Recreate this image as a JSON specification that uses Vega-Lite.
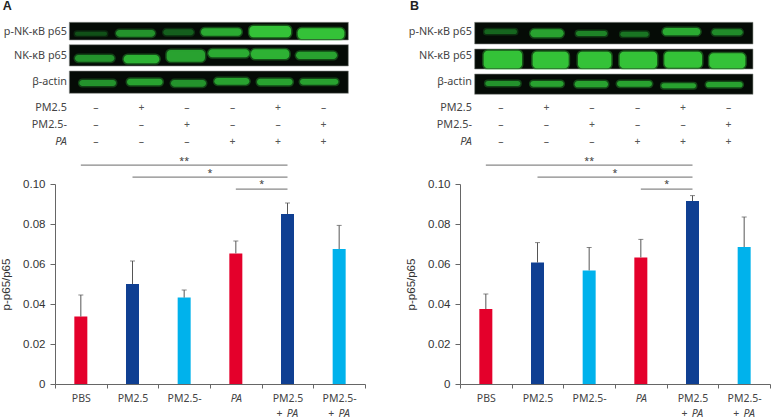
{"$schema":"https://vega.github.io/schema/vega-lite/v6.json","padding":{"left":0,"top":0,"right":0,"bottom":0},"autosize":{"type":"pad"},"background":"white","config":{"view":{"stroke":null},"text":{"font":"Noto Sans"}},"spacing":39,
"datasets":{
"rowLabels":[{"label":"p-NK-κB p65","pos":0.947,"lane":0.36},{"label":"NK-κB p65","pos":1.907,"lane":0.36},{"label":"β-actin","pos":2.973,"lane":0.36},{"label":"PM2.5","pos":3.987,"lane":0.36},{"label":"PM2.5-","pos":4.68,"lane":0.36},{"label":"PA","pos":5.36,"lane":0.36}],
"signs":[{"lane":1,"pos":3.987,"sign":"–"},{"lane":2,"pos":3.987,"sign":"+"},{"lane":3,"pos":3.987,"sign":"–"},{"lane":4,"pos":3.987,"sign":"–"},{"lane":5,"pos":3.987,"sign":"+"},{"lane":6,"pos":3.987,"sign":"–"},{"lane":1,"pos":4.68,"sign":"–"},{"lane":2,"pos":4.68,"sign":"–"},{"lane":3,"pos":4.68,"sign":"+"},{"lane":4,"pos":4.68,"sign":"–"},{"lane":5,"pos":4.68,"sign":"–"},{"lane":6,"pos":4.68,"sign":"+"},{"lane":1,"pos":5.36,"sign":"–"},{"lane":2,"pos":5.36,"sign":"–"},{"lane":3,"pos":5.36,"sign":"–"},{"lane":4,"pos":5.36,"sign":"+"},{"lane":5,"pos":5.36,"sign":"+"},{"lane":6,"pos":5.36,"sign":"+"}],
"sigLines":[{"from":"PBS","to":"PM2.5 + PA","level":0.1094},{"from":"PM2.5","to":"PM2.5 + PA","level":0.1034},{"from":"PA","to":"PM2.5 + PA","level":0.0974}],
"stars":[{"cat":"PM2.5-","level":0.1116,"t":"**"}],
"starsMid":[{"cat":"PM2.5-","level":0.1055,"t":"*"},{"cat":"PA","level":0.0998,"t":"*"}],
"secondLine":[{"cat":"PM2.5 + PA"},{"cat":"PM2.5- + PA"}],
"barsA":[{"cat":"PBS","group":"red","value":0.0337,"upper":0.0445},{"cat":"PM2.5","group":"navy","value":0.05,"upper":0.0615},{"cat":"PM2.5-","group":"cyan","value":0.0432,"upper":0.047},{"cat":"PA","group":"red","value":0.0653,"upper":0.0715},{"cat":"PM2.5 + PA","group":"navy","value":0.085,"upper":0.0905},{"cat":"PM2.5- + PA","group":"cyan","value":0.0675,"upper":0.0793}],
"barsB":[{"cat":"PBS","group":"red","value":0.0375,"upper":0.045},{"cat":"PM2.5","group":"navy","value":0.0607,"upper":0.0707},{"cat":"PM2.5-","group":"cyan","value":0.0568,"upper":0.0683},{"cat":"PA","group":"red","value":0.0633,"upper":0.0723},{"cat":"PM2.5 + PA","group":"navy","value":0.0915,"upper":0.0942},{"cat":"PM2.5- + PA","group":"cyan","value":0.0685,"upper":0.0835}],
"blotBgA":[{"a":0.414,"b":6.546,"lo":0.573,"hi":1.28},{"a":0.414,"b":6.546,"lo":1.467,"hi":2.32},{"a":0.414,"b":6.546,"lo":2.52,"hi":3.413}],
"blotBgB":[{"a":0.421,"b":6.538,"lo":0.573,"hi":1.44},{"a":0.421,"b":6.538,"lo":1.64,"hi":2.44},{"a":0.421,"b":6.538,"lo":2.64,"hi":3.453}],
"bandsA":[{"a":0.538,"b":1.242,"lo":0.947,"hi":1.107,"i":0.25},{"a":1.44,"b":2.297,"lo":0.88,"hi":1.147,"i":0.7},{"a":2.48,"b":3.147,"lo":0.853,"hi":1.093,"i":0.35},{"a":3.308,"b":4.2,"lo":0.813,"hi":1.107,"i":0.85},{"a":4.37,"b":5.286,"lo":0.72,"hi":1.173,"i":1},{"a":5.432,"b":6.458,"lo":0.813,"hi":1.24,"i":1},{"a":0.538,"b":1.403,"lo":1.88,"hi":2.147,"i":0.7},{"a":1.608,"b":2.392,"lo":1.88,"hi":2.213,"i":0.9},{"a":2.553,"b":3.396,"lo":1.68,"hi":2.147,"i":0.8},{"a":3.469,"b":4.37,"lo":1.653,"hi":1.973,"i":0.85},{"a":4.407,"b":5.249,"lo":1.653,"hi":2.04,"i":0.9},{"a":5.396,"b":6.297,"lo":1.747,"hi":2.04,"i":0.8},{"a":0.634,"b":1.44,"lo":2.88,"hi":3.12,"i":0.7},{"a":1.681,"b":2.465,"lo":2.827,"hi":3.093,"i":0.8},{"a":2.648,"b":3.418,"lo":2.88,"hi":3.147,"i":0.7},{"a":3.6,"b":4.37,"lo":2.8,"hi":3.067,"i":0.8},{"a":4.538,"b":5.322,"lo":2.827,"hi":3.093,"i":0.8},{"a":5.484,"b":6.326,"lo":2.84,"hi":3.067,"i":0.8}],
"bandsB":[{"a":0.634,"b":1.352,"lo":0.853,"hi":1.04,"i":0.4},{"a":1.645,"b":2.377,"lo":0.853,"hi":1.173,"i":0.8},{"a":2.648,"b":3.33,"lo":0.92,"hi":1.12,"i":0.6},{"a":3.623,"b":4.245,"lo":0.947,"hi":1.147,"i":0.5},{"a":4.553,"b":5.381,"lo":0.8,"hi":1.093,"i":0.85},{"a":5.637,"b":6.311,"lo":0.853,"hi":1.093,"i":0.65},{"a":0.619,"b":1.462,"lo":1.707,"hi":2.413,"i":1},{"a":1.696,"b":2.487,"lo":1.747,"hi":2.413,"i":1},{"a":2.692,"b":3.425,"lo":1.747,"hi":2.413,"i":1},{"a":3.608,"b":4.429,"lo":1.747,"hi":2.413,"i":1},{"a":4.59,"b":5.418,"lo":1.747,"hi":2.387,"i":1},{"a":5.579,"b":6.37,"lo":1.813,"hi":2.413,"i":1},{"a":0.656,"b":1.425,"lo":2.92,"hi":3.12,"i":0.7},{"a":1.645,"b":2.377,"lo":2.92,"hi":3.147,"i":0.8},{"a":2.619,"b":3.352,"lo":2.92,"hi":3.173,"i":0.8},{"a":3.549,"b":4.319,"lo":2.92,"hi":3.147,"i":0.8},{"a":4.524,"b":5.286,"lo":3.013,"hi":3.213,"i":0.8},{"a":5.505,"b":6.311,"lo":2.96,"hi":3.173,"i":0.8}],
"lettersA":[{"t":"A","lane":-1.05,"pos":-0.07}],
"lettersB":[{"t":"B","lane":-1.0,"pos":-0.07}]
},
"hconcat":[
{"spacing":6,"vconcat":[
{"width":310,"height":150,"layer":[
{"data":{"name":"blotBgA"},"mark":{"type":"rect","color":"#050b06","stroke":"#8a8f8a","strokeWidth":0.6},"encoding":{"x":{"field":"a","type":"quantitative","axis":null,"scale":{"domain":[0.099,6.912],"nice":false,"zero":false}},"x2":{"field":"b"},"y":{"field":"lo","type":"quantitative","axis":null,"scale":{"domain":[-0.32,5.68],"reverse":true,"nice":false,"zero":false}},"y2":{"field":"hi"}}},
{"data":{"name":"bandsA"},"mark":{"type":"rect","cornerRadius":4,"strokeWidth":3,"strokeOpacity":0.4},"encoding":{"x":{"field":"a","type":"quantitative","axis":null},"x2":{"field":"b"},"y":{"field":"lo","type":"quantitative","axis":null},"y2":{"field":"hi"},"color":{"field":"i","type":"quantitative","legend":null,"scale":{"domain":[0.2,1],"range":["#0f4a16","#34c238"]}},"stroke":{"field":"i","type":"quantitative","legend":null,"scale":{"domain":[0.2,1],"range":["#0f4a16","#34c238"]}}}},
{"data":{"name":"rowLabels"},"transform":[{"filter":"datum.label!='PA'"}],"mark":{"type":"text","align":"right","baseline":"middle","fontSize":10.8,"color":"#444"},"encoding":{"x":{"field":"lane","type":"quantitative","axis":null},"y":{"field":"pos","type":"quantitative","axis":null},"text":{"field":"label"}}},
{"data":{"name":"rowLabels"},"transform":[{"filter":"datum.label=='PA'"}],"mark":{"type":"text","align":"right","baseline":"middle","fontSize":10.8,"fontStyle":"italic","color":"#444"},"encoding":{"x":{"field":"lane","type":"quantitative","axis":null},"y":{"field":"pos","type":"quantitative","axis":null},"text":{"field":"label"}}},
{"data":{"name":"signs"},"mark":{"type":"text","align":"center","baseline":"middle","fontSize":10.5,"color":"#555"},"encoding":{"x":{"field":"lane","type":"quantitative","axis":null},"y":{"field":"pos","type":"quantitative","axis":null},"text":{"field":"sign"}}},
{"data":{"name":"lettersA"},"mark":{"type":"text","align":"left","baseline":"middle","fontSize":12.5,"fontWeight":"bold","font":"Liberation Sans","color":"#222"},"encoding":{"x":{"field":"lane","type":"quantitative","axis":null},"y":{"field":"pos","type":"quantitative","axis":null},"text":{"field":"t"}}}
]},
{"width":310,"height":200,"layer":[
{"data":{"name":"barsA"},"mark":{"type":"bar","size":13},"encoding":{"x":{"field":"cat","type":"nominal","title":null,"scale":{"domain":["PBS","PM2.5","PM2.5-","PA","PM2.5 + PA","PM2.5- + PA"],"paddingInner":0,"paddingOuter":0},"axis":{"labelAngle":0,"tickBand":"extent","tickSize":4,"tickColor":"#666","domainColor":"#666","labelFont":"Noto Sans","labelFontSize":10.5,"labelColor":"#444","labelPadding":5,"labelExpr":"split(datum.label,' + ')[0]","labelFontStyle":{"condition":{"test":"datum.label=='PA'","value":"italic"},"value":"normal"}}},"y":{"field":"value","type":"quantitative","title":"p-p65/p65","scale":{"domain":[0,0.1],"nice":false},"axis":{"tickCount":6,"labelExpr":"datum.value==0?'0':format(datum.value,'.2f')","labelOverlap":false,"labelBound":false,"labelFlush":false,"grid":false,"tickSize":5,"tickColor":"#666","domainColor":"#666","labelFont":"Liberation Sans","labelFontSize":11.5,"labelColor":"#333","labelPadding":5,"titleFont":"Liberation Sans","titleFontSize":11.5,"titleFontWeight":"normal","titleColor":"#333","titlePadding":11}},"color":{"field":"group","type":"nominal","legend":null,"scale":{"domain":["red","navy","cyan"],"range":["#e4002b","#0f3f92","#00b2ec"]}}}},
{"data":{"name":"barsA"},"mark":{"type":"rule","color":"#555","strokeWidth":1},"encoding":{"x":{"field":"cat","type":"nominal"},"y":{"field":"value","type":"quantitative"},"y2":{"field":"upper"}}},
{"data":{"name":"barsA"},"mark":{"type":"tick","color":"#555","size":5,"thickness":1},"encoding":{"x":{"field":"cat","type":"nominal"},"y":{"field":"upper","type":"quantitative"}}},
{"data":{"name":"sigLines"},"mark":{"type":"rule","color":"#888","strokeWidth":1.2},"encoding":{"x":{"field":"from","type":"nominal"},"x2":{"field":"to"},"y":{"field":"level","type":"quantitative"}}},
{"data":{"name":"stars"},"mark":{"type":"text","fontSize":9,"color":"#333","baseline":"middle"},"encoding":{"x":{"field":"cat","type":"nominal"},"y":{"field":"level","type":"quantitative"},"text":{"field":"t"}}},
{"data":{"name":"starsMid"},"mark":{"type":"text","fontSize":9,"color":"#333","baseline":"middle"},"encoding":{"x":{"field":"cat","type":"nominal","bandPosition":1},"y":{"field":"level","type":"quantitative"},"text":{"field":"t"}}},
{"data":{"name":"secondLine"},"mark":{"type":"text","fontSize":10.5,"color":"#444","dx":-8,"dy":29.5,"baseline":"middle"},"encoding":{"x":{"field":"cat","type":"nominal"},"y":{"datum":0},"text":{"value":"+"}}},
{"data":{"name":"secondLine"},"mark":{"type":"text","fontSize":10.5,"color":"#444","fontStyle":"italic","dx":5,"dy":29.5,"baseline":"middle"},"encoding":{"x":{"field":"cat","type":"nominal"},"y":{"datum":0},"text":{"value":"PA"}}}
]}
]},
{"spacing":6,"vconcat":[
{"width":310,"height":150,"layer":[
{"data":{"name":"blotBgB"},"mark":{"type":"rect","color":"#050b06","stroke":"#8a8f8a","strokeWidth":0.6},"encoding":{"x":{"field":"a","type":"quantitative","axis":null,"scale":{"domain":[0.099,6.912],"nice":false,"zero":false}},"x2":{"field":"b"},"y":{"field":"lo","type":"quantitative","axis":null,"scale":{"domain":[-0.32,5.68],"reverse":true,"nice":false,"zero":false}},"y2":{"field":"hi"}}},
{"data":{"name":"bandsB"},"mark":{"type":"rect","cornerRadius":4,"strokeWidth":3,"strokeOpacity":0.4},"encoding":{"x":{"field":"a","type":"quantitative","axis":null},"x2":{"field":"b"},"y":{"field":"lo","type":"quantitative","axis":null},"y2":{"field":"hi"},"color":{"field":"i","type":"quantitative","legend":null,"scale":{"domain":[0.2,1],"range":["#0f4a16","#34c238"]}},"stroke":{"field":"i","type":"quantitative","legend":null,"scale":{"domain":[0.2,1],"range":["#0f4a16","#34c238"]}}}},
{"data":{"name":"rowLabels"},"transform":[{"filter":"datum.label!='PA'"}],"mark":{"type":"text","align":"right","baseline":"middle","fontSize":10.8,"color":"#444"},"encoding":{"x":{"field":"lane","type":"quantitative","axis":null},"y":{"field":"pos","type":"quantitative","axis":null},"text":{"field":"label"}}},
{"data":{"name":"rowLabels"},"transform":[{"filter":"datum.label=='PA'"}],"mark":{"type":"text","align":"right","baseline":"middle","fontSize":10.8,"fontStyle":"italic","color":"#444"},"encoding":{"x":{"field":"lane","type":"quantitative","axis":null},"y":{"field":"pos","type":"quantitative","axis":null},"text":{"field":"label"}}},
{"data":{"name":"signs"},"mark":{"type":"text","align":"center","baseline":"middle","fontSize":10.5,"color":"#555"},"encoding":{"x":{"field":"lane","type":"quantitative","axis":null},"y":{"field":"pos","type":"quantitative","axis":null},"text":{"field":"sign"}}},
{"data":{"name":"lettersB"},"mark":{"type":"text","align":"left","baseline":"middle","fontSize":12.5,"fontWeight":"bold","font":"Liberation Sans","color":"#222"},"encoding":{"x":{"field":"lane","type":"quantitative","axis":null},"y":{"field":"pos","type":"quantitative","axis":null},"text":{"field":"t"}}}
]},
{"width":310,"height":200,"layer":[
{"data":{"name":"barsB"},"mark":{"type":"bar","size":13},"encoding":{"x":{"field":"cat","type":"nominal","title":null,"scale":{"domain":["PBS","PM2.5","PM2.5-","PA","PM2.5 + PA","PM2.5- + PA"],"paddingInner":0,"paddingOuter":0},"axis":{"labelAngle":0,"tickBand":"extent","tickSize":4,"tickColor":"#666","domainColor":"#666","labelFont":"Noto Sans","labelFontSize":10.5,"labelColor":"#444","labelPadding":5,"labelExpr":"split(datum.label,' + ')[0]","labelFontStyle":{"condition":{"test":"datum.label=='PA'","value":"italic"},"value":"normal"}}},"y":{"field":"value","type":"quantitative","title":"p-p65/p65","scale":{"domain":[0,0.1],"nice":false},"axis":{"tickCount":6,"labelExpr":"datum.value==0?'0':format(datum.value,'.2f')","labelOverlap":false,"labelBound":false,"labelFlush":false,"grid":false,"tickSize":5,"tickColor":"#666","domainColor":"#666","labelFont":"Liberation Sans","labelFontSize":11.5,"labelColor":"#333","labelPadding":5,"titleFont":"Liberation Sans","titleFontSize":11.5,"titleFontWeight":"normal","titleColor":"#333","titlePadding":11}},"color":{"field":"group","type":"nominal","legend":null,"scale":{"domain":["red","navy","cyan"],"range":["#e4002b","#0f3f92","#00b2ec"]}}}},
{"data":{"name":"barsB"},"mark":{"type":"rule","color":"#555","strokeWidth":1},"encoding":{"x":{"field":"cat","type":"nominal"},"y":{"field":"value","type":"quantitative"},"y2":{"field":"upper"}}},
{"data":{"name":"barsB"},"mark":{"type":"tick","color":"#555","size":5,"thickness":1},"encoding":{"x":{"field":"cat","type":"nominal"},"y":{"field":"upper","type":"quantitative"}}},
{"data":{"name":"sigLines"},"mark":{"type":"rule","color":"#888","strokeWidth":1.2},"encoding":{"x":{"field":"from","type":"nominal"},"x2":{"field":"to"},"y":{"field":"level","type":"quantitative"}}},
{"data":{"name":"stars"},"mark":{"type":"text","fontSize":9,"color":"#333","baseline":"middle"},"encoding":{"x":{"field":"cat","type":"nominal"},"y":{"field":"level","type":"quantitative"},"text":{"field":"t"}}},
{"data":{"name":"starsMid"},"mark":{"type":"text","fontSize":9,"color":"#333","baseline":"middle"},"encoding":{"x":{"field":"cat","type":"nominal","bandPosition":1},"y":{"field":"level","type":"quantitative"},"text":{"field":"t"}}},
{"data":{"name":"secondLine"},"mark":{"type":"text","fontSize":10.5,"color":"#444","dx":-8,"dy":29.5,"baseline":"middle"},"encoding":{"x":{"field":"cat","type":"nominal"},"y":{"datum":0},"text":{"value":"+"}}},
{"data":{"name":"secondLine"},"mark":{"type":"text","fontSize":10.5,"color":"#444","fontStyle":"italic","dx":5,"dy":29.5,"baseline":"middle"},"encoding":{"x":{"field":"cat","type":"nominal"},"y":{"datum":0},"text":{"value":"PA"}}}
]}
]}
]}
